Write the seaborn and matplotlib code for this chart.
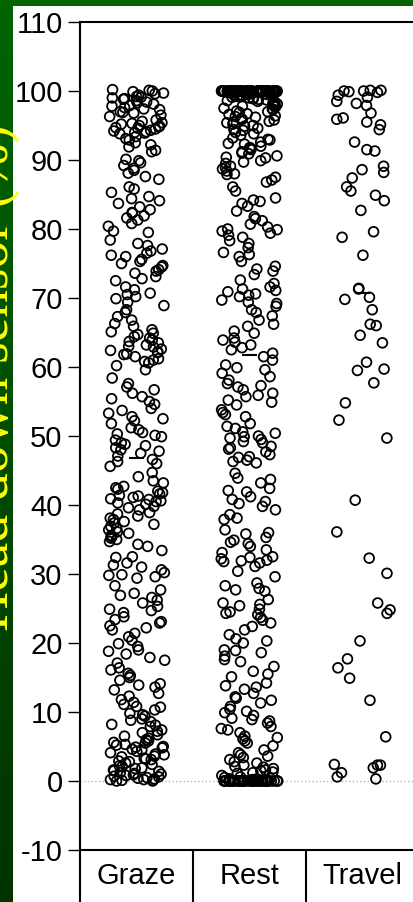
import numpy as np
import pandas as pd
import matplotlib
matplotlib.use("Agg")
import matplotlib.pyplot as plt
import seaborn as sns
from matplotlib.patches import Rectangle
from matplotlib.colors import LinearSegmentedColormap
from matplotlib.transforms import blended_transform_factory

# ── DATA ───────────────────────────────────────────────────
behaviours = ["Graze", "Rest", "Travel"]
y_ticks    = list(range(-10, 111, 10))

graze = [
    100.2, 100.0, 99.9, 100.1, 99.7, 99.4, 99.2, 99.0, 98.8, 98.6, 98.4, 98.1, 97.9, 97.8,
    97.6, 97.3, 97.0, 96.8, 96.5, 96.3, 95.6, 95.4, 95.2, 95.0, 94.9, 94.7, 94.6, 94.3,
    94.1, 94.0, 93.8, 93.4, 92.9, 92.5, 91.9, 91.4, 91.2, 90.1, 89.6, 89.2, 88.8, 88.1,
    87.6, 86.1, 85.8, 84.7, 84.4, 84.1, 83.7, 82.8, 82.4, 82.3, 81.9, 81.3, 80.8, 80.4,
    79.7, 79.5, 77.9, 77.6, 77.1, 76.5, 76.2, 76.0, 75.6, 75.0, 74.7, 74.5, 73.9, 73.6,
    73.1, 72.5, 71.6, 71.2, 70.7, 70.2, 69.9, 69.4, 68.3, 67.9, 67.3, 66.8, 65.9, 65.4,
    64.9, 64.7, 64.4, 63.9, 63.5, 63.2, 62.9, 62.6, 62.4, 62.1, 61.8, 61.5, 61.0, 60.6,
    60.2, 59.6, 58.4, 57.6, 56.7, 56.2, 55.7, 55.0, 54.6, 54.0, 53.3, 52.8, 52.2, 51.8,
    50.9, 50.5, 50.1, 49.9, 49.4, 49.0, 48.6, 48.3, 48.0, 47.5, 47.1, 46.6, 46.0, 45.6,
    44.1, 43.5, 43.2, 42.7, 42.3, 42.0, 41.6, 41.4, 41.1, 40.8, 40.5, 40.3, 40.1, 39.8,
    39.3, 38.7, 38.1, 37.6, 37.2, 36.9, 36.4, 35.9, 35.4, 35.0, 34.7, 34.3, 34.0, 32.5,
    32.4, 31.6, 31.0, 30.6, 30.2, 29.9, 29.8, 29.6, 27.7, 27.2, 26.6, 26.2, 25.8, 25.3,
    24.9, 24.4, 23.8, 23.4, 22.9, 22.5, 22.2, 21.9, 20.9, 20.4, 19.9, 19.5, 19.0, 18.4,
    17.9, 17.1, 16.4, 15.6, 15.0, 14.6, 14.1, 13.6, 13.2, 12.3, 11.8, 11.4, 11.1, 10.8,
    10.7, 9.8, 9.4, 9.0, 8.6, 8.2, 7.9, 7.4, 7.0, 6.5, 6.0, 5.8, 5.5, 5.2, 5.0, 4.8,
    4.6, 4.5, 4.1, 3.8, 3.6, 3.3, 3.1, 2.9, 2.6, 2.1, 1.9, 1.6, 1.4, 1.1, 0.9, 0.7,
    0.5, 0.3, 0.2, 0.1, 0.0, 0.0,
    99.6, 99.1, 98.9, 98.3, 97.4, 96.9, 95.8, 95.3, 94.8, 94.5, 94.2, 93.9, 93.1, 92.2,
    89.9, 88.5, 87.2, 85.3, 83.2, 81.6, 78.4, 76.8, 75.3, 74.1, 72.8, 70.5, 68.9, 66.3,
    65.1, 64.2, 63.7, 63.0, 62.2, 61.9, 61.2, 60.8, 57.1, 55.4, 53.7, 52.5, 51.2, 50.3,
    48.8, 47.8, 46.3, 44.7, 42.5, 41.8, 41.3, 40.9, 40.6, 39.6, 38.9, 38.4, 37.9, 37.4,
    36.6, 36.1, 35.6, 35.2, 33.4, 31.3, 29.4, 28.3, 26.9, 24.7, 23.1, 21.4, 18.8, 17.5,
    16.1, 15.3, 13.9, 12.7, 10.3, 9.6, 8.8, 8.1, 7.2, 6.7, 6.2, 5.6, 5.3, 4.9, 4.3, 3.9,
    3.5, 3.2, 2.8, 2.4, 2.2, 1.8, 1.5, 1.2, 1.0, 0.8, 0.6, 0.4, 0.2, 0.1,
]

rest = [
    100.0, 100.0, 100.0, 100.0, 100.0, 100.0, 100.0, 100.0, 100.0, 100.0,
    100.0, 100.0, 100.0, 100.0, 100.0, 100.0, 100.0, 100.0, 100.0, 100.0,
    100.0, 100.0, 100.0, 100.0, 100.0, 100.0, 100.0, 100.0, 100.0, 100.0,
    100.0, 100.0, 100.0, 100.0, 100.0, 100.0, 100.0, 100.0, 100.0, 100.0,
    100.0, 100.0, 100.0, 100.0, 100.0, 100.0, 100.0, 100.0, 100.0, 100.0,
    100.0, 100.0, 100.0, 100.0, 100.0, 99.9, 99.9, 99.9, 99.9, 99.8,
    99.8, 99.8, 99.7, 99.7, 99.6, 99.6, 99.5, 99.5, 99.4, 99.3,
    99.9, 99.8, 99.7, 99.6, 99.4, 99.2, 98.9, 98.7, 98.4, 98.1,
    99.2, 99.1, 99.0, 98.9, 98.8, 98.6, 98.5, 98.3, 98.2, 98.0,
    97.9, 97.7, 97.5, 97.3, 97.1, 96.9, 96.7, 96.4, 96.2, 96.0,
    97.8, 97.4, 97.0, 96.6, 96.3, 95.9, 95.5, 95.0, 94.4, 93.8,
    95.8, 95.6, 95.4, 95.2, 94.9, 94.6, 94.3, 94.0, 93.6, 93.2,
    92.9, 92.6, 92.3, 92.0, 91.7, 91.5, 91.2, 90.9, 90.6, 90.3,
    93.0, 92.4, 91.8, 91.0, 90.4, 89.7, 88.9, 88.0, 86.8, 84.0,
    89.9, 89.5, 89.1, 88.7, 88.4, 87.9, 87.5, 87.1, 86.1, 85.5,
    84.5, 84.2, 83.7, 83.3, 82.6, 81.8, 81.2, 80.7, 80.3, 80.0,
    81.5, 79.9, 78.3, 76.3, 74.2, 72.6, 71.1, 70.4, 69.4, 67.4,
    79.7, 79.4, 79.1, 78.8, 77.9, 77.3, 76.6, 76.0, 75.3, 74.6,
    73.9, 73.4, 72.1, 71.6, 71.3, 70.9, 70.6, 70.2, 69.7, 69.2,
    68.8, 68.3, 67.9, 66.8, 66.2, 65.9, 64.9, 64.2, 63.6, 63.2,
    65.2, 63.9, 62.8, 61.5, 59.9, 58.6, 57.3, 55.9, 54.9, 53.1,
    62.5, 62.0, 61.0, 60.3, 59.6, 59.1, 58.1, 57.6, 57.1, 56.7,
    56.2, 55.7, 55.2, 54.5, 53.8, 53.4, 52.8, 51.8, 51.1, 50.6,
    51.4, 50.0, 49.2, 48.3, 47.0, 46.3, 43.9, 42.1, 40.5, 38.1,
    50.4, 49.9, 49.7, 49.5, 49.0, 48.5, 48.1, 47.7, 47.3, 46.9,
    46.5, 46.1, 44.6, 43.7, 43.2, 42.4, 41.9, 41.2, 40.8, 40.2,
    39.8, 39.3, 38.6, 37.9, 36.4, 35.8, 35.3, 34.9, 34.4, 34.0,
    36.0, 34.6, 33.1, 32.4, 31.9, 30.4, 27.5, 25.6, 24.3, 22.4,
    33.5, 32.5, 32.2, 32.0, 31.8, 31.6, 31.1, 29.6, 28.7, 28.3,
    27.9, 27.7, 26.3, 25.8, 25.4, 24.9, 24.5, 24.1, 23.7, 23.3,
    22.9, 21.9, 21.2, 20.6, 20.0, 19.0, 18.6, 18.1, 17.6, 16.6,
    20.3, 18.9, 17.3, 15.5, 13.6, 12.0, 10.1, 8.7, 7.6, 6.3,
    15.9, 15.1, 14.2, 13.8, 13.3, 12.7, 12.2, 11.7, 11.3, 10.8,
    10.4, 9.9, 9.5, 9.1, 8.9, 8.4, 7.9, 7.4, 7.0, 6.5,
    6.1, 5.8, 5.5, 4.5, 4.1, 3.8, 3.4, 3.1, 2.6, 2.3,
    5.1, 3.6, 2.8, 2.1, 1.6, 1.2, 0.8, 0.3, 0.0, 0.0,
    2.0, 1.8, 1.5, 1.3, 1.1, 0.6, 0.5, 0.4, 0.3, 0.2,
    0.1, 0.0, 0.0, 0.0, 0.0, 0.0, 0.0, 0.0, 0.0, 0.0,
    0.0, 0.0, 0.0, 0.0, 0.0, 0.0, 0.0, 0.0, 0.0, 0.0,
    0.0, 0.0, 0.0, 0.0, 0.0, 0.0, 0.0, 0.0, 0.0, 0.0,
    0.0, 0.0, 0.0, 0.0, 0.0, 0.0, 0.0, 0.0, 0.0, 0.0,
]

travel = [
    100.1, 100.0, 99.9, 100.0, 99.8, 100.1, 99.4, 99.1, 98.5, 98.2, 97.9, 96.8,
    96.1, 95.9, 95.5, 95.1, 94.4, 92.6, 91.5, 91.3, 89.1, 88.6, 88.2, 87.4,
    86.1, 85.5, 84.9, 84.1, 82.7, 79.6, 78.8, 76.2, 71.4, 71.3, 69.8, 70.1,
    68.3, 66.2, 66.0, 64.6, 63.5, 60.7, 59.7, 59.5, 57.7, 54.8, 52.3, 49.7,
    40.7, 36.1, 32.3, 30.1, 25.8, 24.8, 24.3, 20.3, 17.7, 16.4, 14.9, 11.7,
    6.4, 2.4, 2.3, 2.3, 1.9, 1.2, 0.6, 0.3,
]

groups = [graze, rest, travel]
df = pd.concat([pd.DataFrame({"behaviour": b, "head_down": v})
                for b, v in zip(behaviours, groups)], ignore_index=True)

# ── STYLE ──────────────────────────────────────────────────
sns.set_style("white")
plt.rcParams["font.family"] = ["Liberation Sans", "DejaVu Sans"]
plt.rcParams["axes.unicode_minus"] = False

fig = plt.figure(figsize=(4.14, 9.02), dpi=100)
fig.patch.set_facecolor("#006400")
fig.add_artist(Rectangle((13 / 414, 0), 1, 1 - 6 / 902, transform=fig.transFigure,
                         facecolor="white", edgecolor="none", zorder=-10))

# dark green strip on the left, fading downwards
gax = fig.add_axes([0, 0, 13 / 414, 1 - 6 / 902])
shade = np.linspace(0, 1, 256).reshape(-1, 1)
gax.imshow(shade, aspect="auto", origin="lower",
           cmap=LinearSegmentedColormap.from_list("g", ["#003300", "#006400"]))
gax.axis("off")

# ── PLOT ───────────────────────────────────────────────────
ax = fig.add_axes([80 / 414, 52 / 902, 339 / 414, 828 / 902])
np.random.seed(7)
sns.stripplot(data=df, x="behaviour", y="head_down", order=behaviours,
              jitter=0.25, size=7, color="black", ax=ax)
for coll in ax.collections:
    coll.set_facecolor("none")
    coll.set_edgecolor("black")
    coll.set_linewidth(1.3)

# median marks
for i, vals in enumerate(groups):
    ax.hlines(np.median(vals), i - 0.065, i + 0.065, color="black", lw=1.5, zorder=4)

ax.axhline(0, color="#b4b4b4", ls=":", lw=1, zorder=0)

ax.set_xlim(-0.5, 2.5)
ax.set_ylim(-10, 110)
ax.set_yticks(y_ticks)
ax.set_yticklabels([str(t) for t in y_ticks])
ax.set_xlabel("")
ax.set_ylabel("")
ax.tick_params(axis="y", direction="out", length=8.5, width=1, pad=4,
               labelsize=21, left=True, colors="black")
ax.tick_params(axis="x", length=0, pad=9, labelsize=21, colors="black")
for side in ["left", "top", "bottom", "right"]:
    ax.spines[side].set_color("black")
    ax.spines[side].set_linewidth(1.5)

# table-like dividers under the x axis
trans = blended_transform_factory(ax.transData, ax.transAxes)
for xv in [-0.5, 0.5, 1.5]:
    ax.plot([xv, xv], [0, -0.1], transform=trans, color="black", lw=1.5, clip_on=False)

fig.text(8 / 414, 1 - 378 / 902, "Head down sensor (%)", rotation=90,
         rotation_mode="anchor", ha="center", va="baseline", color="yellow",
         fontsize=40, family=["Liberation Serif", "DejaVu Serif"])

fig.savefig("out.png", dpi=100)
